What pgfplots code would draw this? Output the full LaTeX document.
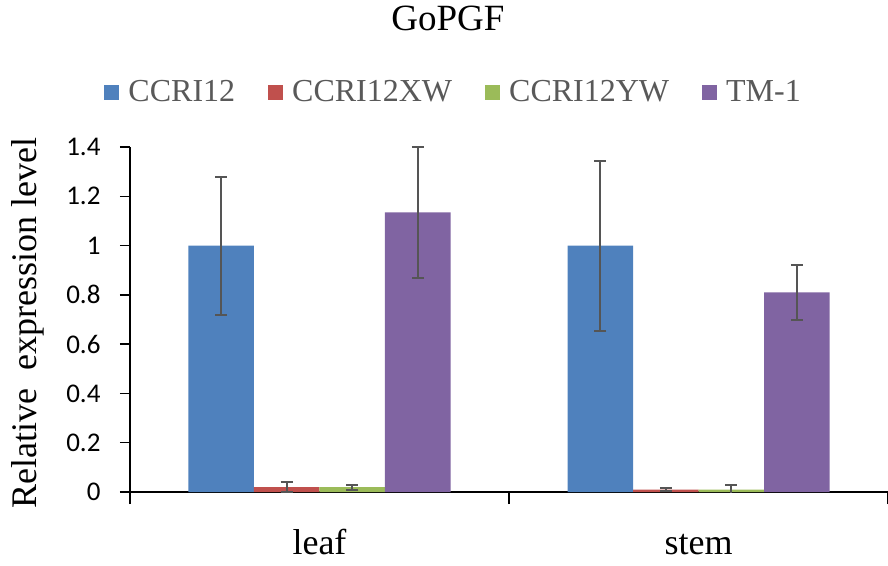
\documentclass[border=0pt]{standalone}
\usepackage{pgfplots}
\pgfplotsset{compat=1.18}
\usepackage{fontspec}
\setmainfont{Liberation Serif}
\newfontfamily\timesf{Liberation Serif}
\newfontfamily\carlito{Carlito}
\definecolor{cblue}{HTML}{4F81BD}
\definecolor{cred}{HTML}{C0504D}
\definecolor{cgreen}{HTML}{9BBB59}
\definecolor{cpurple}{HTML}{8064A2}
\definecolor{errgray}{HTML}{555555}
\definecolor{legtext}{HTML}{595959}
\pgfplotsset{
  eb/.style={error bars/.cd, y dir=both, y explicit,
    error bar style={draw=errgray, line width=2.2pt},
    error mark options={draw=errgray, line width=2pt, mark size=6pt, rotate=90}},
}
\begin{document}
\begin{tikzpicture}
\begin{axis}[
  scale only axis,
  width=758pt, height=345pt,
  ybar=0pt, bar width=65.5pt,
  xmin=-0.5, xmax=1.5,
  ymin=0, ymax=1.4,
  axis x line=bottom, axis y line=left,
  axis line style={line width=1.5pt, black, -},
  xtick={0,1}, xticklabels={leaf,stem},
  minor xtick={-0.5,0.5,1.5},
  major x tick style={draw=none},
  minor x tick style={line width=1.5pt, black},
  minor tick length=12pt,
  ytick={0,0.2,...,1.4},
  yticklabels={0,0.2,0.4,0.6,0.8,1,1.2,1.4},
  major y tick style={line width=1.5pt, black},
  major tick length=10pt,
  tick align=outside,
  /pgf/number format/assume math mode=true,
  yticklabel style={font=\carlito\fontsize{27}{30}\selectfont, xshift=-16pt},
  xticklabel style={font=\timesf\fontsize{36}{40}\selectfont, anchor=base, yshift=-52pt, inner sep=0pt},
  ylabel={Relative\ \ expression level},
  ylabel style={font=\timesf\fontsize{36}{40}\selectfont, at={(rel axis cs:-0.1227,0.49)}, anchor=base},
  title={GoPGF},
  title style={font=\timesf\fontsize{37}{40}\selectfont, at={(rel axis cs:0.4195,1.3217)}, anchor=base},
  legend columns=4,
  legend style={draw=none, font=\timesf\fontsize{32}{34}\selectfont, text=legtext,
    at={(rel axis cs:0.427,1.159)}, anchor=center,
    /tikz/every odd column/.append style={column sep=7pt},
    /tikz/every even column/.append style={column sep=31pt}},
  legend image code/.code={\fill[#1] (0pt,-7.5pt) rectangle (15pt,7.5pt);},
]
\addplot[fill=cblue, draw=none, eb] coordinates {(0,1.0) +- (0,0.28) (1,1.0) +- (0,0.345)};
\addplot[fill=cred, draw=none, eb] coordinates {(0,0.02) +- (0,0.02) (1,0.01) +- (0,0.005)};
\addplot[fill=cgreen, draw=none, eb] coordinates {(0,0.02) +- (0,0.01) (1,0.01) +- (0,0.02)};
\addplot[fill=cpurple, draw=none, eb] coordinates {(0,1.135) +- (0,0.265) (1,0.81) +- (0,0.11)};
\legend{CCRI12,CCRI12XW,CCRI12YW,TM-1}
\coordinate (bl) at (rel axis cs:-0.1715,-0.2116);
\coordinate (tr) at (rel axis cs:1,1.4261);
\end{axis}
\pgfresetboundingbox
\path[use as bounding box] (bl) rectangle (tr);
\end{tikzpicture}
\end{document}
